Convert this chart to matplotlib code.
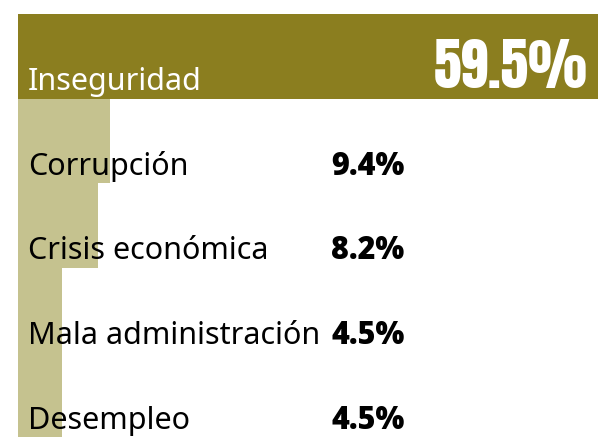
# Principales problemas: barra horizontal con etiquetas dentro

import matplotlib
matplotlib.use('Agg')
import matplotlib.pyplot as plt

categorias = ['Inseguridad', 'Corrupción', 'Crisis económica', 'Mala administración', 'Desempleo']
valores = [59.5, 9.4, 8.2, 4.5, 4.5]
etiquetas = ['59.5%', '9.4%', '8.2%', '4.5%', '4.5%']

oscuro = '#8b7e1f'
claro = '#c5c28f'

fig = plt.figure(figsize=(5.98, 4.45), dpi=100)
ax = fig.add_axes([18 / 598, 8 / 445, 580 / 598, 423 / 445])

ind = list(range(len(categorias)))
colores = [oscuro] + [claro] * (len(categorias) - 1)
ax.barh(ind, valores, height=1.0, color=colores, linewidth=0)

ax.set_xlim(0, max(valores))
ax.set_ylim(len(categorias) - 0.5, -0.5)
ax.axis('off')

sans = ['Noto Sans', 'Open Sans', 'DejaVu Sans']
negrita = ['Open Sans', 'DejaVu Sans']
cond = ['Anton', 'Oswald', 'DejaVu Sans']
trans = ax.get_yaxis_transform()

for i, (cat, lab) in enumerate(zip(categorias, etiquetas)):
    y = i + 0.4
    if i == 0:
        ax.text(0.017, y, cat, transform=trans, ha='left', va='baseline',
                fontsize=22, color='white', family=sans)
        ax.text(0.982, y - 0.02, lab, transform=trans, ha='right', va='baseline',
                fontsize=40, color='white', family=cond)
    else:
        ax.text(0.017, y, cat, transform=trans, ha='left', va='baseline',
                fontsize=22, color='black', family=sans)
        ax.text(0.54, y, lab, transform=trans, ha='left', va='baseline',
                fontsize=22, color='black', family=negrita, fontweight='heavy')

plt.savefig('out.png', dpi=100)
